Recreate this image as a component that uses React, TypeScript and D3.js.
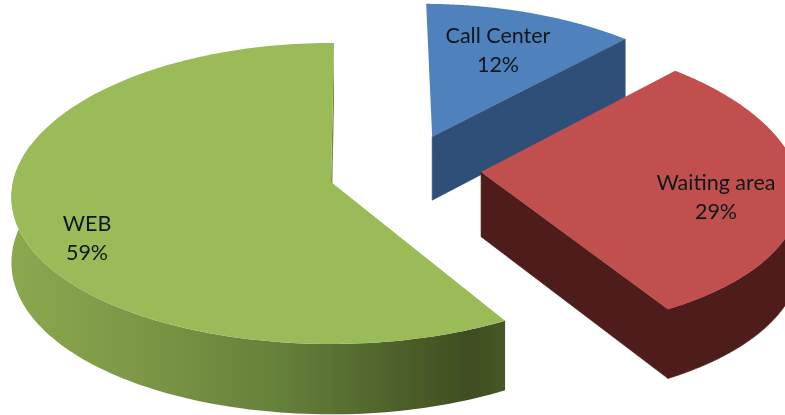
import React from "react";
import * as d3 from "d3";

const categories = ["Call Center", "Waiting area", "WEB"];
const shareLabels = ["12%", "29%", "59%"];
const shares = [12.01, 29.49, 58.5];
const topColors = ["#4F81BD", "#C0504D", "#9BBB59"];
const wallColors = ["#2D4F78", "#4F1E1B", "#748E40"];

// layout
const W = 785, H = 415;
const CX = 331, CY = 182, RX = 318, RY = 149.6, KX = 0.1, KY = 0.0763, DEPTH = 65;
const START = (0.6 * Math.PI) / 180;
const FRONT_FROM = (80 * Math.PI) / 180;
const FRONT_TO = (285 * Math.PI) / 180;
const offsets: Record<string, [number, number]> = {
  "Call Center": [0.328, -0.31],
  "Waiting area": [0.475, -0.067],
  WEB: [0, 0],
};
const labelPos: Record<string, [number, number]> = {
  "Call Center": [498, 43],
  "Waiting area": [716, 190],
  WEB: [87, 231],
};
const drawOrder = ["Call Center", "WEB", "Waiting area"];

const xs = d3.scaleLinear().domain([0, 1]).range([CX, CX + RX]);
const ys = d3.scaleLinear().domain([0, 1]).range([CY, CY + RY]);

function project(u: number, v: number, lift = 0): [number, number] {
  const sx = 1 / (1 - KX * v);
  const sy = 1 / (1 - KY * v);
  return [xs(u * sx), ys(v * sy) + lift * sy];
}

const path = (pts: [number, number][]) => d3.line()(pts) + "Z";

const pieGen = d3
  .pie<number>()
  .sort(null)
  .startAngle(START)
  .endAngle(START + 2 * Math.PI);
const arcs = pieGen(shares);

function Slice({ i }: { i: number }) {
  const name = categories[i];
  const [ou, ov] = offsets[name];
  const a = arcs[i];
  const pt = (t: number, lift = 0) => project(ou + Math.sin(t), ov - Math.cos(t), lift);
  const n = 160;
  const ts = d3.range(n + 1).map((j) => a.startAngle + ((a.endAngle - a.startAngle) * j) / n);
  const frontTs = ts.filter((t) => t >= FRONT_FROM && t <= FRONT_TO);
  const apex = project(ou, ov);
  const apexB = project(ou, ov, DEPTH);
  const rimTop = ts.map((t) => pt(t));
  const wallFill = wallColors[i];
  const isWeb = name === "WEB";
  const rimFill = isWeb ? "url(#webRim)" : wallFill;
  const edge = isWeb ? "none" : wallFill;
  return (
    <g>
      <path d={path([apex, rimTop[n], pt(ts[n], DEPTH), apexB])} fill={wallFill} stroke={edge} strokeWidth={0.6} />
      {frontTs.length > 1 && (
        <path
          d={path([...frontTs.map((t) => pt(t)), ...frontTs.slice().reverse().map((t) => pt(t, DEPTH))])}
          fill={rimFill}
          stroke={edge}
          strokeWidth={0.6}
        />
      )}
      <path d={path([apex, ...rimTop])} fill={topColors[i]} />
    </g>
  );
}

export default function App() {
  return (
    <svg
      width={W}
      height={H}
      viewBox={`0 0 ${W} ${H}`}
      style={{ position: "fixed", left: 0, top: 0, background: "#fff", display: "block" }}
    >
      <defs>
        <linearGradient id="webRim" gradientUnits="userSpaceOnUse" x1={12} x2={503} y1={0} y2={0}>
          <stop offset="0" stopColor="#8BA84F" />
          <stop offset="0.25" stopColor="#7C9846" />
          <stop offset="0.55" stopColor="#64803A" />
          <stop offset="0.93" stopColor="#3F4E20" />
          <stop offset="1" stopColor="#465626" />
        </linearGradient>
        <filter id="soft" x="-2%" y="-2%" width="104%" height="104%">
          <feGaussianBlur stdDeviation="0.45" />
        </filter>
      </defs>
      <g filter="url(#soft)">
        {drawOrder.map((n) => (
          <Slice key={n} i={categories.indexOf(n)} />
        ))}
        <g fontFamily="Lato, 'Open Sans', sans-serif" fontSize={21.5} textAnchor="middle" fill="#10181a">
          {categories.map((c, i) => (
            <text key={c} x={labelPos[c][0]} y={labelPos[c][1]}>
              <tspan x={labelPos[c][0]}>{c}</tspan>
              <tspan x={labelPos[c][0]} dy={28.5}>{shareLabels[i]}</tspan>
            </text>
          ))}
        </g>
      </g>
    </svg>
  );
}
